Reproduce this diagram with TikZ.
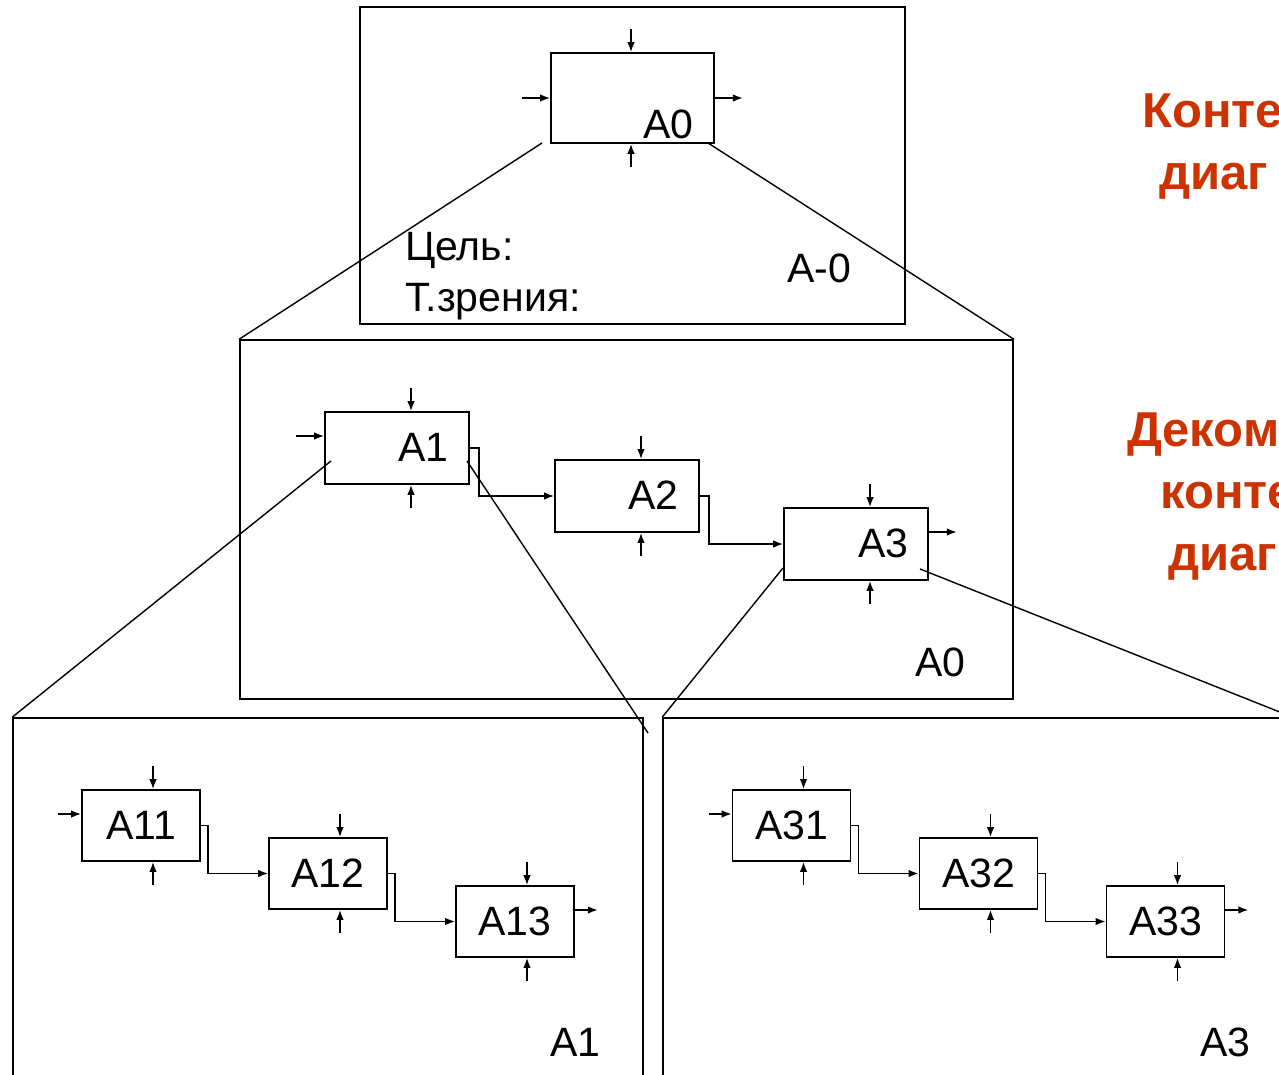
\documentclass[tikz,border=0pt]{standalone}
\usepackage{fontspec}
\setmainfont{Liberation Sans}
\usetikzlibrary{arrows.meta}
\definecolor{redtxt}{RGB}{204,51,0}
\begin{document}
\begin{tikzpicture}[x=1pt,y=-1pt,
  frame/.style={draw, line width=1.6pt, rectangle, inner sep=0pt},
  fbox/.style={draw, line width=1.7pt, rectangle, inner sep=0pt, font=\fontsize{41}{49}\selectfont},
  arr/.style={line width=1.5pt, -{Latex[length=10pt,width=7.5pt]}},
  ln/.style={line width=1.4pt},
  lbl/.style={anchor=base west, inner sep=0pt, font=\fontsize{41}{49}\selectfont},
  rtxt/.style={anchor=base west, inner sep=0pt, text=redtxt, font=\fontsize{49}{59}\selectfont\bfseries}]
\useasboundingbox (0,0) rectangle (1279,1075);
\clip (0,0) rectangle (1279,1075);
\fill[white] (0,0) rectangle (1279,1075);

% ---------- frames ----------
\node[frame, minimum width=545pt, minimum height=317pt] (F0) at (632.5,165.5) {};
\node[frame, minimum width=773pt, minimum height=359pt] (F1) at (626.5,519.5) {};
\node[frame, minimum width=630pt, minimum height=392pt] (F2) at (328,914) {};
\node[frame, minimum width=647pt, minimum height=392pt] (F3) at (986.5,914) {};

% ---------- top: A0 ----------
\node[fbox, minimum width=163pt, minimum height=90pt] (A0) at (632.5,98) {};
\node[lbl] (A0l) at (643,139) {A0};
\draw[arr] ([xshift=-1.5pt,yshift=23pt]A0.north) -- ([xshift=-1.5pt]A0.north);
\draw[arr] ([xshift=-1.5pt,yshift=-23pt]A0.south) -- ([xshift=-1.5pt]A0.south);
\draw[arr] ([xshift=-28pt]A0.west) -- (A0.west);
\draw[arr] (A0.east) -- ([xshift=28pt]A0.east);
\node[lbl] (goal) at (405,261) {Цель:};
\node[lbl] (view) at (405,311) {Т.зрения:};
\node[lbl] (Am0) at (787,283) {A-0};

% ---------- middle: A1 A2 A3 ----------
\node[fbox, minimum width=144pt, minimum height=72pt] (A1) at (397,448) {};
\node[fbox, minimum width=144pt, minimum height=72pt] (A2) at (627,496) {};
\node[fbox, minimum width=144pt, minimum height=72pt] (A3) at (856,544) {};
\node[lbl] (A1l) at (398,461) {A1};
\node[lbl] (A2l) at (628,509) {A2};
\node[lbl] (A3l) at (858,557) {A3};
\node[lbl] (F1l) at (915,676) {A0};
\foreach \b in {A1,A2,A3}{
  \draw[arr] ([xshift=14pt,yshift=23pt]\b.north) -- ([xshift=14pt]\b.north);
  \draw[arr] ([xshift=14pt,yshift=-23pt]\b.south) -- ([xshift=14pt]\b.south);
}
\draw[arr] ([xshift=-28pt,yshift=12pt]A1.west) -- ([yshift=12pt]A1.west);
\draw[arr] ([yshift=12pt]A3.east) -- ([xshift=28pt,yshift=12pt]A3.east);
\draw[arr] (A1.east) -- ++(9,0) |- (A2.west);
\draw[arr] (A2.east) -- ++(9,0) |- (A3.west);

% ---------- bottom left: A11 A12 A13 ----------
\node[fbox, minimum width=118pt, minimum height=71pt] (A11) at (141,825.5) {A11};
\node[fbox, minimum width=118pt, minimum height=71pt] (A12) at (328,873.5) {A12};
\node[fbox, minimum width=118pt, minimum height=71pt] (A13) at (515,921.5) {A13};
\node[lbl] (F2l) at (550,1056) {A1};

% ---------- bottom right: A31 A32 A33 ----------
\node[fbox, minimum width=118pt, minimum height=71pt] (A31) at (791.5,825.5) {A31};
\node[fbox, minimum width=118pt, minimum height=71pt] (A32) at (978.5,873.5) {A32};
\node[fbox, minimum width=118pt, minimum height=71pt] (A33) at (1165.5,921.5) {A33};
\node[lbl] (F3l) at (1200,1056) {A3};

\foreach \b in {A11,A12,A13,A31,A32,A33}{
  \draw[arr] ([xshift=12pt,yshift=23pt]\b.north) -- ([xshift=12pt]\b.north);
  \draw[arr] ([xshift=12pt,yshift=-23pt]\b.south) -- ([xshift=12pt]\b.south);
}
\draw[arr] ([xshift=-23pt,yshift=11.5pt]A11.west) -- ([yshift=11.5pt]A11.west);
\draw[arr] ([xshift=-23pt,yshift=11.5pt]A31.west) -- ([yshift=11.5pt]A31.west);
\draw[arr] ([yshift=11.5pt]A13.east) -- ([xshift=23pt,yshift=11.5pt]A13.east);
\draw[arr] ([yshift=11.5pt]A33.east) -- ([xshift=23pt,yshift=11.5pt]A33.east);
\draw[arr] (A11.east) -- ++(7,0) |- (A12.west);
\draw[arr] (A12.east) -- ++(7,0) |- (A13.west);
\draw[arr] (A31.east) -- ++(7,0) |- (A32.west);
\draw[arr] (A32.east) -- ++(7,0) |- (A33.west);

% ---------- decomposition lines ----------
\coordinate (d0a) at (542,143);
\coordinate (d0b) at (708,143);
\coordinate (d1a) at (331,461);
\coordinate (d1b) at (467,461);
\coordinate (d1e) at (648,733);
\coordinate (d3a) at (783,568);
\coordinate (d3b) at (920,569);
\coordinate (d3e) at (1320,728);
\draw[ln] (d0a) -- (F1.north west);
\draw[ln] (d0b) -- (F1.north east);
\draw[ln] (d1a) -- (F2.north west);
\draw[ln] (d1b) -- (d1e);
\draw[ln] (d3a) -- (F3.north west);
\draw[ln] (d3b) -- (d3e);

% ---------- red captions ----------
\node[rtxt] (c1) at (1142,128) {Конте};
\node[rtxt] (c2) at (1159,190) {диаг};
\node[rtxt] (c3) at (1127,446) {Деком};
\node[rtxt] (c4) at (1160,508) {конте};
\node[rtxt] (c5) at (1168,570) {диаг};
\end{tikzpicture}
\end{document}
